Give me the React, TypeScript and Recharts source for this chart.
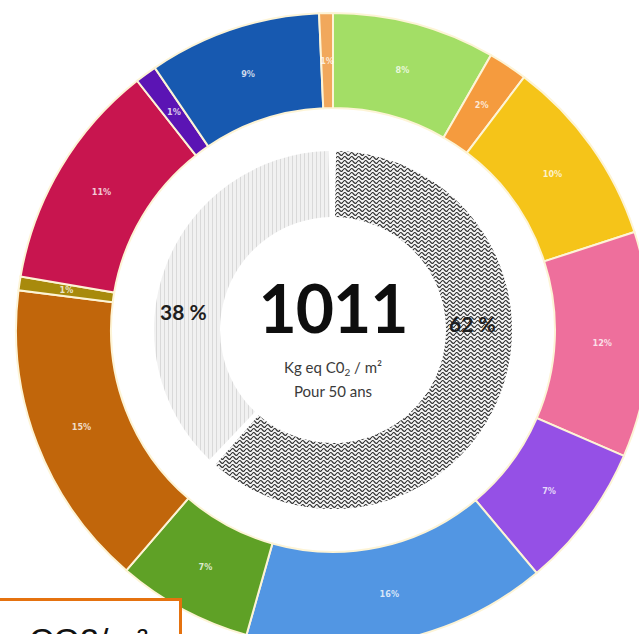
import React from 'react';
import { PieChart, Pie, Cell } from 'recharts';

// outer ring, clockwise from 12 o'clock
const postes = ['p1', 'p2', 'p3', 'p4', 'p5', 'p6', 'p7', 'p8', 'p9', 'p10', 'p11', 'p12', 'p13'];
const parts = [8.3, 2, 9.7, 11.5, 7.4, 15.5, 6.9, 15.7, 0.7, 11.7, 1.1, 8.8, 0.7];
const labels = ['8%', '2%', '10%', '12%', '7%', '16%', '7%', '15%', '1%', '11%', '1%', '9%', '1%'];
const colors = [
  '#a3de66', '#f59b3e', '#f5c419', '#ee6f9c', '#9550e6', '#5296e3', '#5fa126',
  '#c1660b', '#a88a0c', '#c8154f', '#5b14b4', '#1759b0', '#f1a85c',
];

// inner ring
const groupes = ['62', '38'];
const groupValues = [62, 38];
const groupLabels = ['62 %', '38 %'];
const groupFills = ['url(#waves)', 'url(#stripes)'];

const outerData = postes.map((name, i) => ({ name, value: parts[i], label: labels[i] }));
const innerData = groupes.map((name, i) => ({ name, value: groupValues[i], label: groupLabels[i] }));

const RAD = Math.PI / 180;

const renderOuterLabel = (props: any) => {
  const { cx, cy, midAngle, innerRadius, outerRadius, index } = props;
  const r = (innerRadius + outerRadius) / 2;
  const x = cx + r * Math.cos(-midAngle * RAD);
  const y = cy + r * Math.sin(-midAngle * RAD);
  return (
    <text
      x={x}
      y={y}
      textAnchor="middle"
      dominantBaseline="central"
      fill="rgba(255,255,255,0.78)"
      fontSize={9}
      fontWeight="bold"
      fontFamily="DejaVu Sans Condensed, DejaVu Sans, sans-serif"
    >
      {outerData[index].label}
    </text>
  );
};

export default function App() {
  return (
    <div
      style={{
        position: 'absolute',
        left: 0,
        top: 0,
        width: 639,
        height: 634,
        overflow: 'hidden',
        background: '#fff',
      }}
    >
      <PieChart width={639} height={634} margin={{ top: 0, right: 0, bottom: 0, left: 0 }}>
        <defs>
          <pattern id="waves" patternUnits="userSpaceOnUse" width="7" height="4">
            <rect width="7" height="4" fill="#f4f4f4" />
            <path d="M0 2 C1.75 0, 1.75 0, 3.5 2 S5.25 4, 7 2" stroke="#333" strokeWidth="1.2" fill="none" />
          </pattern>
          <pattern id="stripes" patternUnits="userSpaceOnUse" width="4" height="4">
            <rect width="4" height="4" fill="#f1f1f1" />
            <line x1="0.5" y1="0" x2="0.5" y2="4" stroke="#d9d9d9" strokeWidth="1" />
          </pattern>
        </defs>
        <Pie
          data={outerData}
          dataKey="value"
          cx={333}
          cy={330}
          innerRadius={222}
          outerRadius={317}
          startAngle={90}
          endAngle={-270}
          stroke="#fdf4d6"
          strokeWidth={2}
          label={renderOuterLabel}
          labelLine={false}
          isAnimationActive={false}
        >
          {outerData.map((d, i) => (
            <Cell key={d.name} fill={colors[i]} />
          ))}
        </Pie>
        <Pie
          data={innerData}
          dataKey="value"
          cx={333}
          cy={330}
          innerRadius={113}
          outerRadius={179}
          startAngle={89}
          endAngle={-271}
          paddingAngle={2.5}
          stroke="none"
          isAnimationActive={false}
        >
          {innerData.map((d, i) => (
            <Cell key={d.name} fill={groupFills[i]} />
          ))}
        </Pie>
      </PieChart>

      {/* inner ring labels */}
      <div style={{ position: 'absolute', left: 160, top: 299, fontFamily: 'Lato, sans-serif', fontWeight: 700, fontSize: 21, color: '#1e1e1e' }}>
        {groupLabels[1]}
      </div>
      <div style={{ position: 'absolute', left: 449, top: 311, fontFamily: 'Lato, sans-serif', fontWeight: 700, fontSize: 21, color: '#1e1e1e' }}>
        {groupLabels[0]}
      </div>

      {/* centre */}
      <div style={{ position: 'absolute', left: 233, width: 200, top: 268, textAlign: 'center', fontFamily: 'Lato, sans-serif', fontWeight: 700, fontSize: 66, lineHeight: '80px', color: '#0e0e0e', letterSpacing: -1 }}>
        1011
      </div>
      <div style={{ position: 'absolute', left: 233, width: 200, top: 356, textAlign: 'center', fontFamily: 'Lato, sans-serif', fontSize: 15, lineHeight: '22px', color: '#3a3a3a' }}>
        Kg eq C0<sub style={{ fontSize: 10, verticalAlign: 'baseline', position: 'relative', top: 3 }}>2</sub> / m²
        <br />
        Pour 50 ans
      </div>

      {/* framed caption at bottom left */}
      <div
        style={{
          position: 'absolute',
          left: -10,
          top: 598,
          width: 186,
          height: 80,
          border: '3px solid #e5720f',
          background: '#fff',
        }}
      >
        <div style={{ position: 'absolute', left: 36, top: 20, fontFamily: 'Liberation Sans, Arial, sans-serif', fontSize: 34, color: '#111', whiteSpace: 'nowrap' }}>
          CO2/m²
        </div>
      </div>
    </div>
  );
}
